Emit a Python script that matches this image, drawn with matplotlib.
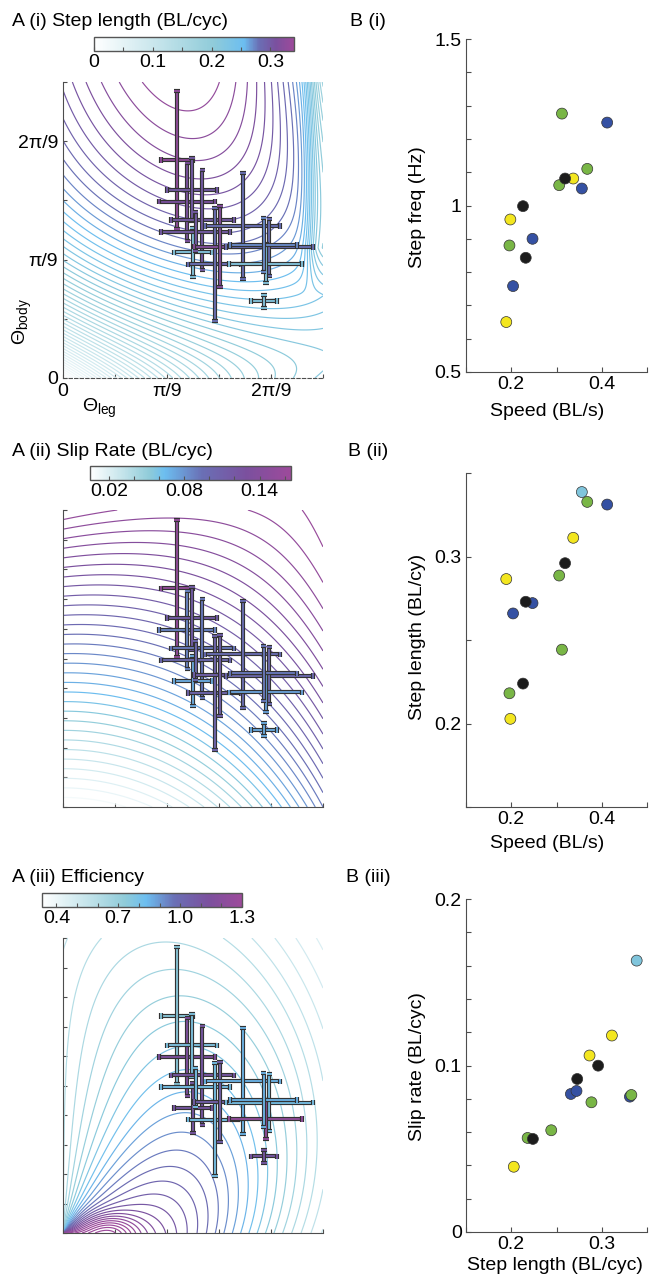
import numpy as np
import matplotlib.pyplot as plt
from matplotlib.colors import LinearSegmentedColormap, Normalize
from matplotlib.cm import ScalarMappable
from matplotlib import patheffects as pe
from matplotlib.ticker import FixedLocator

plt.rcParams['font.family'] = ['Liberation Sans', 'DejaVu Sans']
plt.rcParams['mathtext.fontset'] = 'custom'
plt.rcParams['mathtext.rm'] = 'Liberation Sans'
plt.rcParams['mathtext.it'] = 'Liberation Sans:italic'
plt.rcParams['font.size'] = 14

W, H = 655, 1277

# ---- per-trial data (B panels) ----
trial_color = ['lightblue', 'blue', 'blue', 'blue', 'yellow', 'yellow', 'yellow',
               'green', 'green', 'green', 'green', 'black', 'black', 'black']
speed = [0.356, 0.204, 0.247, 0.412, 0.189, 0.198, 0.337,
         0.196, 0.306, 0.312, 0.368, 0.226, 0.232, 0.319]
step_freq = [1.051, 0.758, 0.900, 1.249, 0.650, 0.958, 1.081,
             0.880, 1.061, 1.276, 1.110, 0.998, 0.843, 1.081]
step_len = [0.3386, 0.2659, 0.2721, 0.3311, 0.2865, 0.2028, 0.3112,
            0.2181, 0.2886, 0.2442, 0.3327, 0.2239, 0.2729, 0.2960]
slip_rate = [0.163, 0.0829, 0.0847, 0.0813, 0.106, 0.0392, 0.118,
             0.0565, 0.0779, 0.0611, 0.0823, 0.0559, 0.0919, 0.0999]

# ---- mean +/- sd crosses (A panels), degrees ----
leg_mean = [21.9, 23.9, 24.8, 26.8, 25.0, 25.5, 29.2, 30.2, 34.6, 39.7, 39.0, 38.7, 38.6]
leg_err = [3.1, 5.35, 4.8, 6.0, 3.6, 6.6, 5.1, 5.1, 7.2, 8.3, 7.0, 2.5, 6.4]
body_mean = [36.8, 29.8, 31.8, 26.7, 21.2, 24.7, 19.2, 22.2, 25.7, 22.1, 19.3, 13.0, 22.5]
body_err = [11.6, 6.6, 5.3, 8.4, 4.2, 3.3, 9.6, 6.8, 9.0, 4.8, 3.3, 1.1, 4.6]
cross_step = [0.33, 0.31, 0.30, 0.30, 0.22, 0.30, 0.28, 0.32, 0.28, 0.28, 0.22, 0.22, 0.27]
cross_slip = [0.155, 0.085, 0.115, 0.09, 0.07, 0.10, 0.105, 0.11, 0.095, 0.10, 0.075, 0.07, 0.09]
cross_eff = [0.75, 1.15, 0.78, 1.1, 1.1, 0.8, 0.8, 1.05, 0.85, 0.8, 1.25, 1.1, 0.85]

palette = {'yellow': '#f3e61f', 'black': '#1c1c1c', 'green': '#79b646',
           'blue': '#3551a3', 'lightblue': '#80c5dc'}


def make_cmap(m):
    stops = [(0, '#ffffff'), (0.45 * m, '#c2e3ea'), (0.8 * m, '#8fcbd9'), (m, '#6cbef0'),
             (m + 0.3 * (1 - m), '#6a6fb5'), (m + 0.65 * (1 - m), '#7b509e'), (1, '#9d4a9b')]
    return LinearSegmentedColormap.from_list('c', stops)


def rect(l, t, r, b):
    return [l / W, 1 - b / H, (r - l) / W, (b - t) / H]


def ftext(x, y, s, **kw):
    fig.text(x / W, 1 - y / H, s, **kw)


# ---- model surfaces over (theta_leg, theta_body), degrees ----
th = np.linspace(0, 50, 301)
X, Y = np.meshgrid(th, th)
u, v = X / 50, Y / 50

body_part = 0.32 * (1 - np.exp(-Y / 18))
leg_part = 0.25 * (1 - np.exp(-X / 25)) * (0.28 + 0.72 * np.exp(-Y / 8))
decline = 0.14 * u ** 4 * v ** 1.3
cliff = 0.05 / (1 + np.exp(-(X - 47.5) / 0.8)) * np.clip((Y - 14) / 8, 0, 1)
step_field = body_part + leg_part - decline - cliff

slip_field = 0.005 + 0.155 * v + (0.085 - 0.0513 * v) * u ** 2 - 0.031 * u * v ** 3

r = np.hypot(u, v)
phi = np.degrees(np.arctan2(v, u))
e0 = 0.6 + 0.65 * (1 - phi / 90)
R = 0.87 + 0.009 * phi
pw = 2.5 + 1.5 * phi / 90
eff_field = (0.3 + (e0 - 0.3) * np.exp(-(r / R) ** pw)
             + 0.2 * np.exp(-((u - 0.17) / 0.11) ** 2 - (v / 0.06) ** 2))

fig = plt.figure(figsize=(6.55, 12.77), dpi=100)

panels = [
    dict(field=step_field, levels=np.arange(0.006, 0.345, 0.0065), vmin=0, vmax=0.34, m=0.75,
         vals=cross_step, top=82, bot=378, cb=(94, 37, 294, 51),
         cbt=[0, 0.1, 0.2, 0.3], cbl=['0', '0.1', '0.2', '0.3'], cbm=[0.05, 0.15, 0.25],
         title='A (i) Step length (BL/cyc)', ty=22),
    dict(field=slip_field, levels=np.arange(0.01, 0.20, 0.005), vmin=0.005, vmax=0.165, m=0.37,
         vals=cross_slip, top=510, bot=807, cb=(90, 466, 291, 480),
         cbt=[0.02, 0.08, 0.14], cbl=['0.02', '0.08', '0.14'], cbm=[0.04, 0.06, 0.10, 0.12, 0.16],
         title='A (ii) Slip Rate (BL/cyc)', ty=452),
    dict(field=eff_field, levels=np.arange(0.36, 1.45, 0.035), vmin=0.33, vmax=1.3, m=0.52,
         vals=cross_eff, top=938, bot=1233, cb=(42, 893, 242, 907),
         cbt=[0.4, 0.7, 1.0, 1.3], cbl=['0.4', '0.7', '1.0', '1.3'],
         cbm=[0.5, 0.6, 0.8, 0.9, 1.1, 1.2],
         title='A (iii) Efficiency', ty=878),
]

d2r = np.deg2rad
for k, p in enumerate(panels):
    cmap = make_cmap(p['m'])
    norm = Normalize(p['vmin'], p['vmax'])
    ax = fig.add_axes(rect(63, p['top'], 323, p['bot']))
    ax.contour(d2r(X), d2r(Y), p['field'], levels=p['levels'], cmap=cmap, norm=norm,
               linewidths=0.85)
    for i in range(len(leg_mean)):
        c = cmap(norm(p['vals'][i]))
        eb = ax.errorbar(d2r(leg_mean[i]), d2r(body_mean[i]), xerr=d2r(leg_err[i]),
                         yerr=d2r(body_err[i]), fmt='none', ecolor=c, elinewidth=1.3,
                         capsize=2, capthick=1.3, zorder=3 + i)
        for art in list(eb.lines[1]) + list(eb.lines[2]):
            art.set_path_effects([pe.Stroke(linewidth=3.0, foreground='#333333'), pe.Normal()])
    ax.set_xlim(0, d2r(50))
    ax.set_ylim(0, d2r(50))
    for s in ['top', 'right']:
        ax.spines[s].set_visible(False)
    for s in ['left', 'bottom']:
        ax.spines[s].set_color('#4d4d4d')
    ax.tick_params(direction='in', length=3, color='#4d4d4d', labelsize=14)
    if k == 0:
        ax.set_xticks(d2r(np.arange(0, 51, 10)), labels=['0', '', 'π/9', '', '2π/9', ''])
        ax.set_yticks(d2r(np.arange(0, 51, 10)), labels=['0', '', 'π/9', '', '2π/9', ''])
        ax.spines['bottom'].set_linestyle((0, (3, 2)))
    else:
        ax.set_xticks(d2r(np.arange(0, 51, 10)), labels=[])
        ax.set_yticks(d2r(np.arange(0, 51, 5)), labels=[])

    cax = fig.add_axes(rect(*p['cb']))
    cb = fig.colorbar(ScalarMappable(norm=norm, cmap=cmap), cax=cax, orientation='horizontal')
    cb.set_ticks(p['cbt'], labels=p['cbl'])
    cax.xaxis.set_minor_locator(FixedLocator(p['cbm']))
    cax.tick_params(which='both', direction='in', length=3, width=0.8, color='#555555',
                    labelsize=14, pad=2)
    cb.outline.set_edgecolor('#555555')
    cb.outline.set_linewidth(1)
    ftext(12, p['ty'], p['title'], fontsize=14, va='center')

ftext(22, 322, r'Θ$_{\mathregular{body}}$', rotation=90, ha='center', va='center', fontsize=14)
ftext(82, 408, r'Θ$_{\mathregular{leg}}$', ha='left', va='center', fontsize=14)

# ---- B panels ----
freq_colors = [palette[c] for c in trial_color]
freq_colors[0] = palette['blue']
other_colors = [palette[c] for c in trial_color]

bpanels = [
    dict(x=speed, y=step_freq, cols=freq_colors, top=39, bot=372,
         xlim=(0.1, 0.5), xt=[0.1, 0.2, 0.3, 0.4, 0.5], xl=['', '0.2', '', '0.4', ''],
         ylim=(0.5, 1.5), yt=np.round(np.arange(0.5, 1.51, 0.1), 2),
         yl=['0.5', '', '', '', '', '1', '', '', '', '', '1.5'],
         xlabel='Speed (BL/s)', xlx=547, xly=412, ylabel='Step freq (Hz)', yly=207,
         tag='B (i)', tagy=22),
    dict(x=speed, y=step_len, cols=other_colors, top=473, bot=807,
         xlim=(0.1, 0.5), xt=[0.1, 0.2, 0.3, 0.4, 0.5], xl=['', '0.2', '', '0.4', ''],
         ylim=(0.15, 0.35), yt=[0.15, 0.2, 0.25, 0.3, 0.35], yl=['', '0.2', '', '0.3', ''],
         xlabel='Speed (BL/s)', xlx=547, xly=844, ylabel='Step length (BL/cy)', yly=637,
         tag='B (ii)', tagy=451),
    dict(x=step_len, y=slip_rate, cols=other_colors, top=899, bot=1232,
         xlim=(0.15, 0.35), xt=[0.15, 0.2, 0.25, 0.3, 0.35], xl=['', '0.2', '', '0.3', ''],
         ylim=(0, 0.2), yt=np.round(np.arange(0, 0.201, 0.02), 2),
         yl=['0', '', '', '', '', '0.1', '', '', '', '', '0.2'],
         xlabel='Step length (BL/cyc)', xlx=555, xly=1265, ylabel='Slip rate (BL/cyc)',
         yly=1067, tag='B (iii)', tagy=878),
]

for p in bpanels:
    ax = fig.add_axes(rect(466, p['top'], 647, p['bot']))
    ax.scatter(p['x'], p['y'], c=p['cols'], s=62, edgecolors='#333333', linewidths=0.5,
               zorder=3)
    ax.set_xlim(*p['xlim'])
    ax.set_ylim(*p['ylim'])
    ax.set_xticks(p['xt'], labels=p['xl'])
    ax.set_yticks(p['yt'], labels=p['yl'])
    for s in ['top', 'right']:
        ax.spines[s].set_visible(False)
    for s in ['left', 'bottom']:
        ax.spines[s].set_color('#4d4d4d')
    ax.tick_params(direction='in', length=3.5, color='#4d4d4d', labelsize=14, pad=3)
    ftext(p['xlx'], p['xly'], p['xlabel'], ha='center', va='center', fontsize=14)
    ftext(418, p['yly'], p['ylabel'], rotation=90, ha='center', va='center', fontsize=14)
    ftext(368, p['tagy'], p['tag'], ha='center', va='center', fontsize=14)

fig.savefig('out.png', dpi=100)
